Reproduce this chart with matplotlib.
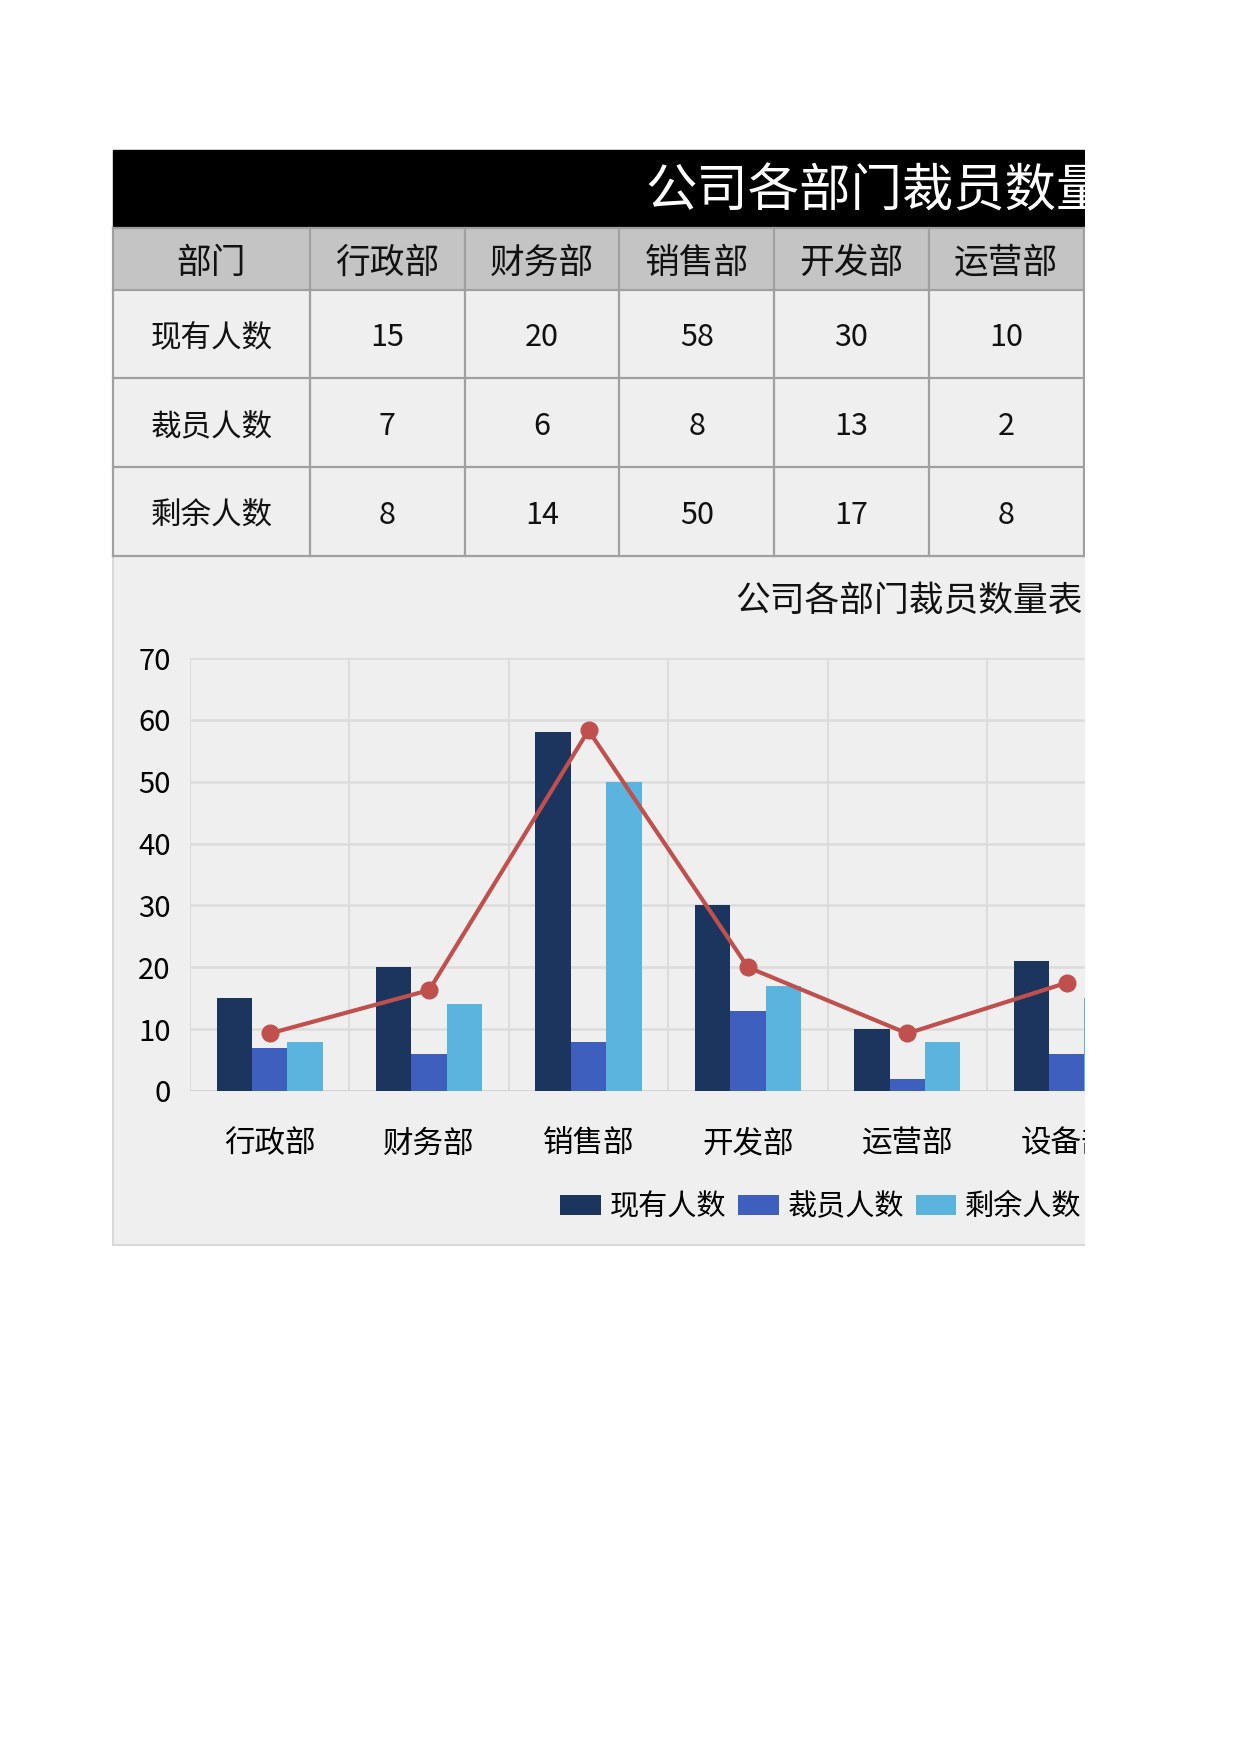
import matplotlib
matplotlib.use('Agg')
import matplotlib.pyplot as plt
from matplotlib.patches import Rectangle
import numpy as np

plt.rcParams['font.family'] = ['Noto Sans CJK SC', 'DejaVu Sans']

# data
depts = ['行政部', '财务部', '销售部', '开发部', '运营部', '设备部']
row_names = ['现有人数', '裁员人数', '剩余人数']
current = [15, 20, 58, 30, 10, 21]
laid_off = [7, 6, 8, 13, 2, 6]
remaining = [8, 14, 50, 17, 8, 15]
trend = [9.3, 16.3, 58.3, 20, 9.3, 17.5]

table_title = '公司各部门裁员数量表'
chart_title = '公司各部门裁员数量表'

navy = '#1c355e'
blue = '#3f5fbf'
light = '#5ab4dd'
red = '#c0504d'
cell_bg = '#efefef'
head_bg = '#c4c4c4'
line_c = '#a0a0a0'

W, H = 1242, 1754
fig = plt.figure(figsize=(W / 100, H / 100), dpi=100)
fig.patch.set_facecolor('white')

# pixel-space layer for the sheet-like table and chart backdrop
bg = fig.add_axes([0, 0, 1, 1], zorder=0)
bg.set_xlim(0, W)
bg.set_ylim(H, 0)
bg.axis('off')

x0 = 113
col_w = [197] + [154.7] * len(depts)
col_x = np.concatenate([[x0], x0 + np.cumsum(col_w)])
row_y = [228, 290, 378, 467, 556]

# title bar
bg.add_patch(Rectangle((x0, 150), col_x[-1] - x0, 78, color='black'))
bg.text(645, 192, table_title, color='white', fontsize=37, weight='medium',
        ha='left', va='center')

# header row + body
bg.add_patch(Rectangle((x0, row_y[0]), col_x[-1] - x0, row_y[1] - row_y[0],
                       facecolor=head_bg, edgecolor='none'))
bg.add_patch(Rectangle((x0, row_y[1]), col_x[-1] - x0, row_y[-1] - row_y[1],
                       facecolor=cell_bg, edgecolor='none'))
headers = ['部门'] + depts
for i, h in enumerate(headers):
    bg.text((col_x[i] + col_x[i + 1]) / 2, (row_y[0] + row_y[1]) / 2 + 4, h,
            fontsize=25, ha='center', va='center', color='#111111')

table_rows = [current, laid_off, remaining]
for r, (name, vals) in enumerate(zip(row_names, table_rows)):
    yc = (row_y[r + 1] + row_y[r + 2]) / 2 + 4
    bg.text((col_x[0] + col_x[1]) / 2, yc, name, fontsize=22,
            ha='center', va='center', color='#111111')
    for i, v in enumerate(vals):
        bg.text((col_x[i + 1] + col_x[i + 2]) / 2, yc, str(v), fontsize=22,
                ha='center', va='center', color='#111111')

for y in row_y:
    bg.plot([x0, col_x[-1]], [y, y], color=line_c, lw=1.6)
for x in col_x:
    bg.plot([x, x], [row_y[0], row_y[-1]], color=line_c, lw=1.6)

# chart backdrop
bg.add_patch(Rectangle((x0, 556), col_x[-1] - x0, 1245 - 556,
                       facecolor=cell_bg, edgecolor='#d9d9d9', lw=1.5))
bg.text(735, 601, chart_title, fontsize=25, ha='left', va='center',
        color='#111111')

# the combo chart itself
ax = fig.add_axes([190 / W, 1 - 1091 / H, 7 * 159.4 / W, (1091 - 658) / H],
                  zorder=1)
ax.set_facecolor(cell_bg)
x = np.arange(len(depts))
bw = 0.222
b1 = ax.bar(x - bw, current, bw, color=navy, label='现有人数', zorder=3)
b2 = ax.bar(x, laid_off, bw, color=blue, label='裁员人数', zorder=3)
b3 = ax.bar(x + bw, remaining, bw, color=light, label='剩余人数', zorder=3)
ax.plot(x, trend, color=red, lw=3, marker='o', markersize=12, zorder=4)

ax.set_xlim(-0.5, 6.5)
ax.set_ylim(0, 70)
ax.set_yticks(range(0, 71, 10))
ax.set_xticks(x)
ax.set_xticklabels(depts, fontsize=22)
ax.set_xticks(np.arange(-0.5, 7, 1), minor=True)
ax.tick_params(axis='y', labelsize=21, length=0, pad=14)
ax.tick_params(axis='x', which='both', length=0, pad=27)
ax.grid(axis='y', color='#dcdcdc', lw=1.8, zorder=0)
ax.grid(axis='x', which='minor', color='#dcdcdc', lw=1.5, zorder=0)
for s in ax.spines.values():
    s.set_visible(False)
ax.axhline(0, color='#d0d0d0', lw=1.8, zorder=2)

fig.legend(handles=[b1, b2, b3], loc='center left',
           bbox_to_anchor=(560 / W, 1 - 1207 / H), ncol=3, frameon=False,
           fontsize=21, handlelength=1.4, handleheight=0.7,
           handletextpad=0.3, columnspacing=0.4, borderpad=0,
           borderaxespad=0)

# the sheet is cut off on the right
fig.add_artist(Rectangle((1085 / W, 0), 1 - 1085 / W, 1,
                         transform=fig.transFigure, facecolor='white',
                         edgecolor='none', zorder=100))

fig.savefig('out.png', dpi=100)
